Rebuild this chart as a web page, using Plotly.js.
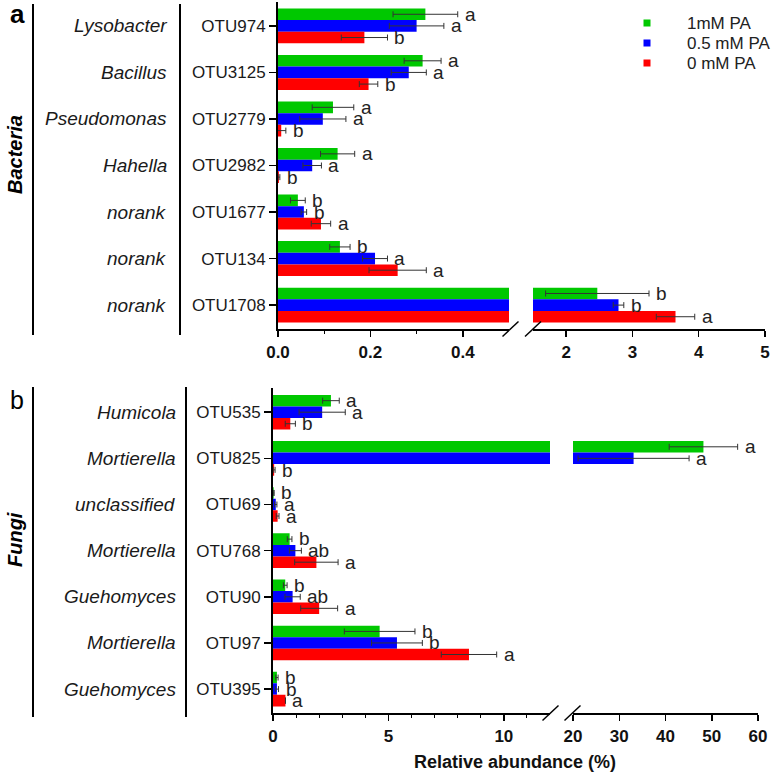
<!DOCTYPE html>
<html>
<head>
<meta charset="utf-8">
<script src="https://cdn.plot.ly/plotly-3.0.1.min.js"></script>
<style>
  html, body { margin: 0; padding: 0; background: #fff; }
  #chart { width: 777px; height: 776px; }
</style>
</head>
<body>
<div id="chart"></div>
<script>
// ---- data (relative abundance, %) ----
const bactOtu = ['OTU974', 'OTU3125', 'OTU2779', 'OTU2982', 'OTU1677', 'OTU134', 'OTU1708'];
const bactGenus = ['Lysobacter', 'Bacillus', 'Pseudomonas', 'Hahella', 'norank', 'norank', 'norank'];
const bact1mM = [0.319, 0.313, 0.119, 0.129, 0.043, 0.134, 2.47];
const bact1mMErr = [0.07, 0.04, 0.045, 0.037, 0.016, 0.022, 0.78];
const bact05mM = [0.300, 0.283, 0.097, 0.074, 0.056, 0.210, 2.79];
const bact05mMErr = [0.059, 0.038, 0.05, 0.02, 0.006, 0.027, 0.08];
const bact0mM = [0.187, 0.196, 0.007, 0.002, 0.093, 0.259, 3.65];
const bact0mMErr = [0.05, 0.02, 0.01, 0.002, 0.021, 0.062, 0.29];
const bact1mMSig = ['a', 'a', 'a', 'a', 'b', 'b', 'b'];
const bact05mMSig = ['a', 'a', 'a', 'a', 'b', 'a', 'b'];
const bact0mMSig = ['b', 'b', 'b', 'b', 'a', 'a', 'a'];

const fungiOtu = ['OTU535', 'OTU825', 'OTU69', 'OTU768', 'OTU90', 'OTU97', 'OTU395'];
const fungiGenus = ['Humicola', 'Mortierella', 'unclassified', 'Mortierella', 'Guehomyces', 'Mortierella', 'Guehomyces'];
const fungi1mM = [2.51, 48.2, 0.03, 0.72, 0.53, 4.62, 0.17];
const fungi1mMErr = [0.36, 7.4, 0.02, 0.1, 0.08, 1.53, 0.05];
const fungi05mM = [2.13, 33.1, 0.12, 0.97, 0.85, 5.37, 0.17];
const fungi05mMErr = [1.0, 12, 0.05, 0.26, 0.33, 1.1, 0.07];
const fungi0mM = [0.75, 0.05, 0.2, 1.88, 2.0, 8.49, 0.54];
const fungi0mMErr = [0.22, 0.04, 0.06, 0.94, 0.8, 1.2, 0];
const fungi1mMSig = ['a', 'a', 'b', 'b', 'b', 'b', 'b'];
const fungi05mMSig = ['a', 'a', 'a', 'ab', 'ab', 'b', 'b'];
const fungi0mMSig = ['b', 'b', 'a', 'a', 'a', 'a', 'a'];

const treatments = ['1mM PA', '0.5 mM PA', '0 mM PA'];
const COLORS = ['#00C800', '#0000FF', '#FF0000'];

// axis break ranges
const bactRange1 = [0, 0.5], bactRange2 = [1.5, 5];
const fungiRange1 = [0, 12], fungiRange2 = [20, 60];

// ---- layout geometry (pixels of the 777x776 page) ----
const W = 777, H = 776;
const px = v => v / W;
const py = v => 1 - v / H;
const aSeg1 = [px(278), px(509)], aSeg2 = [px(533), px(765)], aY = [py(329.3), py(1.7)];
const bSeg1 = [px(273), px(550)], bSeg2 = [px(573), px(758)], bY = [py(713.3), py(388)];

const FONT = 'Liberation Sans, Arial, sans-serif';
const BAR_SHIFT = 11.7; // pixel offset of the outer bars in a group

function barTraces(cats, series, errs, xa, ya) {
    return series.map((vals, i) => ({
        type: 'bar',
        orientation: 'h',
        name: treatments[i],
        y: cats,
        x: vals,
        xaxis: xa,
        yaxis: ya,
        marker: { color: COLORS[i], line: { width: 0 } },
        error_x: { type: 'data', array: errs[i], color: '#333', thickness: 1, width: 3 },
        showlegend: false,
        hoverinfo: 'x+y',
    }));
}

const bactSeries = [bact1mM, bact05mM, bact0mM];
const bactErrs = [bact1mMErr, bact05mMErr, bact0mMErr];
const bactSigs = [bact1mMSig, bact05mMSig, bact0mMSig];
const fungiSeries = [fungi1mM, fungi05mM, fungi0mM];
const fungiErrs = [fungi1mMErr, fungi05mMErr, fungi0mMErr];
const fungiSigs = [fungi1mMSig, fungi05mMSig, fungi0mMSig];

const data = [
    ...barTraces(bactOtu, bactSeries, bactErrs, 'x', 'y'),
    ...barTraces(bactOtu, bactSeries, bactErrs, 'x2', 'y'),
    ...barTraces(fungiOtu, fungiSeries, fungiErrs, 'x3', 'y2'),
    ...barTraces(fungiOtu, fungiSeries, fungiErrs, 'x4', 'y2'),
];

// significance letters, placed on whichever axis segment holds the error bar end
const annotations = [];
function addLetters(cats, series, errs, sigs, range1, xa1, xa2, ya) {
    series.forEach((vals, i) => {
        vals.forEach((v, j) => {
            const end = v + errs[i][j];
            annotations.push({
                text: sigs[i][j],
                x: end, y: cats[j],
                xref: end > range1[1] ? xa2 : xa1,
                yref: ya,
                xanchor: 'left', yanchor: 'middle',
                xshift: 5, yshift: (1 - i) * BAR_SHIFT,
                showarrow: false,
                font: { family: FONT, size: 19, color: '#222' },
            });
        });
    });
}
addLetters(bactOtu, bactSeries, bactErrs, bactSigs, bactRange1, 'x', 'x2', 'y');
addLetters(fungiOtu, fungiSeries, fungiErrs, fungiSigs, fungiRange1, 'x3', 'x4', 'y2');

// genus names
bactGenus.forEach((g, j) => annotations.push({
    text: g, x: px(169), y: bactOtu[j], xref: 'paper', yref: 'y',
    xanchor: 'right', yanchor: 'middle', showarrow: false,
    font: { family: FONT, size: 19, style: 'italic', color: '#1a1a1a' },
}));
fungiGenus.forEach((g, j) => annotations.push({
    text: g, x: px(178), y: fungiOtu[j], xref: 'paper', yref: 'y2',
    xanchor: 'right', yanchor: 'middle', showarrow: false,
    font: { family: FONT, size: 19, style: 'italic', color: '#1a1a1a' },
}));

// panel labels, kingdom labels, shared x title
function paperText(text, x, y, font, angle, xanchor) {
    annotations.push({ text: text, x: px(x), y: py(y), xref: 'paper', yref: 'paper',
                       xanchor: xanchor || 'center', yanchor: 'middle', showarrow: false,
                       textangle: angle || 0, font: Object.assign({ family: FONT, color: '#000' }, font) });
}
paperText('a', 17, 14, { size: 26, weight: 'bold' });
paperText('b', 17, 400, { size: 25 });
paperText('Bacteria', 15, 155, { size: 20, weight: 'bold', style: 'italic' }, -90);
paperText('Fungi', 15, 540, { size: 20, weight: 'bold', style: 'italic' }, -90);
paperText('Relative abundance (%)', 515, 762, { size: 18, weight: 'bold', color: '#111' });

// bracket lines, axis-break slashes, legend swatches
const shapes = [];
function vline(x, y0, y1) {
    shapes.push({ type: 'line', xref: 'paper', yref: 'paper', x0: px(x), x1: px(x), y0: py(y0), y1: py(y1),
                  line: { color: '#000', width: 2 } });
}
vline(33, 4, 335); vline(180, 4, 335);
vline(33, 387, 717); vline(186, 387, 717);
function slash(cx, cy) {
    shapes.push({ type: 'line', xref: 'paper', yref: 'paper',
                  x0: px(cx - 8), x1: px(cx + 8), y0: py(cy + 7.5), y1: py(cy - 7.5),
                  line: { color: '#000', width: 1.5 } });
}
slash(510.5, 329); slash(533, 329);
slash(550.5, 713); slash(572.5, 713);

// legend: small square swatch + label per treatment
treatments.forEach((t, i) => {
    const cy = 23 + i * 20;
    shapes.push({ type: 'rect', xref: 'paper', yref: 'paper',
                  x0: px(643.5), x1: px(650.5), y0: py(cy + 3.5), y1: py(cy - 3.5),
                  fillcolor: COLORS[i], line: { width: 0 } });
    paperText(t, 685, cy, { size: 17, color: '#222' }, 0, 'left');
});

const tickFont = { family: FONT, size: 17, weight: 'bold', color: '#111' };
const baseX = {
    showgrid: false, zeroline: false, showline: true, linecolor: '#000', linewidth: 2,
    ticks: 'outside', ticklen: 6, tickwidth: 1.5, tickcolor: '#000', tickfont: tickFont,
    fixedrange: true,
};
const baseY = {
    type: 'category', autorange: 'reversed', showgrid: false, zeroline: false,
    showline: true, linecolor: '#000', linewidth: 2,
    ticks: 'outside', ticklen: 7, tickwidth: 1.5, tickcolor: '#000',
    tickfont: { family: FONT, size: 17, color: '#1a1a1a' }, fixedrange: true,
};

const layout = {
    width: W, height: H,
    margin: { l: 0, r: 0, t: 0, b: 0 },
    paper_bgcolor: '#fff', plot_bgcolor: 'rgba(0,0,0,0)',
    barmode: 'group', bargap: 0.25, bargroupgap: 0,
    font: { family: FONT, color: '#111' },
    showlegend: false,
    xaxis: { ...baseX, domain: aSeg1, range: bactRange1, anchor: 'y', dtick: 0.2, tickformat: '.1f',
             minor: { tickvals: [0.1, 0.3], ticks: 'outside', ticklen: 3, tickwidth: 1, tickcolor: '#000' } },
    xaxis2: { ...baseX, domain: aSeg2, range: bactRange2, anchor: 'y', tickvals: [2, 3, 4, 5] },
    xaxis3: { ...baseX, domain: bSeg1, range: fungiRange1, anchor: 'y2', tickvals: [0, 5, 10],
              minor: { tickvals: [1, 2, 3, 4, 6, 7, 8, 9, 11], ticks: 'outside', ticklen: 3, tickwidth: 1, tickcolor: '#000' } },
    xaxis4: { ...baseX, domain: bSeg2, range: fungiRange2, anchor: 'y2', tickvals: [20, 30, 40, 50, 60] },
    yaxis: { ...baseY, domain: aY, anchor: 'x', categoryorder: 'array', categoryarray: bactOtu },
    yaxis2: { ...baseY, domain: bY, anchor: 'x3', categoryorder: 'array', categoryarray: fungiOtu },
    annotations: annotations,
    shapes: shapes,
};

Plotly.newPlot('chart', data, layout, { displayModeBar: false, staticPlot: true });
</script>
</body>
</html>
